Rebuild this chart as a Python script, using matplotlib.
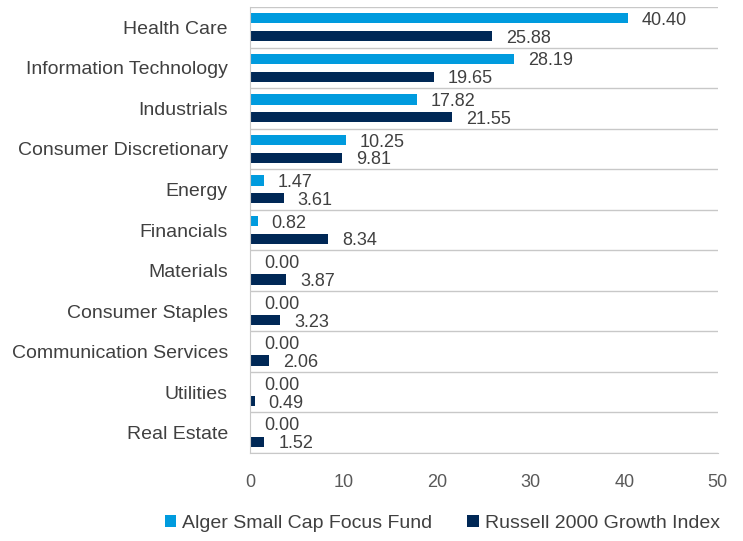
import matplotlib.pyplot as plt
import numpy as np
from matplotlib import font_manager

sectors = ["Health Care", "Information Technology", "Industrials",
           "Consumer Discretionary", "Energy", "Financials", "Materials",
           "Consumer Staples", "Communication Services", "Utilities", "Real Estate"]
fund = [40.40, 28.19, 17.82, 10.25, 1.47, 0.82, 0.00, 0.00, 0.00, 0.00, 0.00]
index = [25.88, 19.65, 21.55, 9.81, 3.61, 8.34, 3.87, 3.23, 2.06, 0.49, 1.52]
series_names = ["Alger Small Cap Focus Fund", "Russell 2000 Growth Index"]
xticks = [0, 10, 20, 30, 40, 50]

LIGHT = "#009BDE"
DARK = "#002856"
TEXT = "#404040"

names = {f.name for f in font_manager.fontManager.ttflist}
family = "Liberation Sans Narrow" if "Liberation Sans Narrow" in names else "Liberation Sans"
plt.rcParams["font.family"] = [family, "DejaVu Sans"]

fig = plt.figure(figsize=(7.43, 5.41), dpi=100)
ax = fig.add_axes([0.3365, 0.1627, 0.6295, 0.8243])

y = np.arange(len(sectors))
off = 0.22
h = 0.25
ax.barh(y - off, fund, height=h, color=LIGHT, label=series_names[0])
ax.barh(y + off, index, height=h, color=DARK, label=series_names[1])

for yi, v in zip(y, fund):
    ax.text(v + 1.5, yi - off + 0.05, f"{v:.2f}", ha="left", va="center",
            fontsize=13, color=TEXT)
for yi, v in zip(y, index):
    ax.text(v + 1.5, yi + off + 0.05, f"{v:.2f}", ha="left", va="center",
            fontsize=13, color=TEXT)

ax.set_ylim(len(sectors) - 0.5, -0.5)
ax.set_xlim(0, 50)
ax.set_yticks(y)
ax.set_yticklabels(sectors, fontsize=14, color=TEXT)
ax.set_xticks(xticks)
ax.set_xticklabels([str(t) for t in xticks], fontsize=13, color="#595959")
ax.tick_params(axis="both", length=0)
ax.tick_params(axis="x", pad=15)
ax.tick_params(axis="y", pad=16)

for b in np.arange(-0.5, len(sectors) - 0.4, 1.0):
    ax.axhline(b, color="#c8c8c8", lw=1, zorder=0)
for s in ["top", "right"]:
    ax.spines[s].set_visible(False)
ax.spines["left"].set_color("#c8c8c8")
ax.spines["bottom"].set_color("#c8c8c8")

leg = fig.legend(loc="lower center", bbox_to_anchor=(0.595, -0.015), ncol=2,
                 frameon=False, fontsize=14, handlelength=0.6, handleheight=0.6,
                 columnspacing=1.8, handletextpad=0.3)
for t in leg.get_texts():
    t.set_color(TEXT)

fig.savefig("out.png", dpi=100)
